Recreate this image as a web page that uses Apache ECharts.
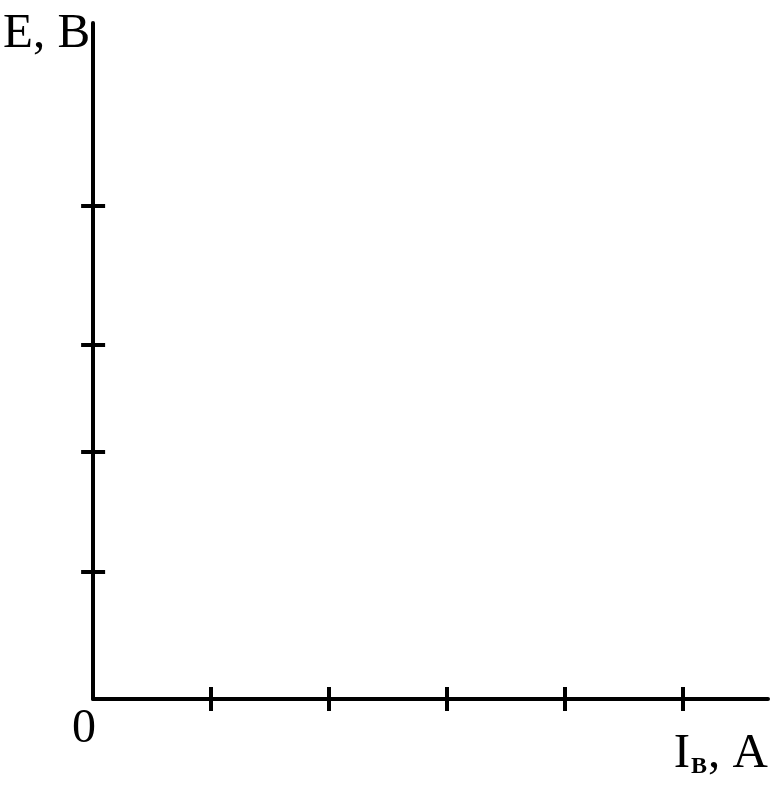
<!DOCTYPE html>
<html>
<head>
<meta charset="utf-8">
<script src="https://cdn.jsdelivr.net/npm/echarts@6/dist/echarts.min.js"></script>
<style>
html,body{margin:0;padding:0;background:#fff;}
#chart{width:771px;height:794px;}
</style>
</head>
<body>
<div id="chart"></div>
<script>
// Axis ranges and tick positions (no data series shown)
const xMax = 5.72;
const yMax = 5.72;
const xTicks = [1, 2, 3, 4, 5];
const yTicks = [1.08, 2.09, 3.0, 4.17];
const xOriginLabel = ['0'];
const yName = 'E, B';
const seriesData = [];

const FONT = 'Liberation Serif';
const lineStyle = { color: '#000', width: 4 };

function xAxisDef(inside, main) {
  return {
    type: 'value', position: 'bottom', min: 0, max: xMax,
    axisLine: { show: main, onZero: false, lineStyle: lineStyle },
    axisTick: { show: true, inside: inside, length: 12, lineStyle: lineStyle, customValues: xTicks },
    splitLine: { show: false },
    axisLabel: main ? {
      show: true, customValues: [0], formatter: () => xOriginLabel[0],
      fontFamily: FONT, fontSize: 48, lineHeight: 48, color: '#000',
      align: 'right', margin: 6, padding: [0, -3, 0, 0]
    } : { show: false },
    name: main ? '{a|I}{b|B}{a|, A}' : '',
    nameLocation: 'end', nameGap: 0,
    nameTextStyle: {
      align: 'right', verticalAlign: 'middle', padding: [110, 0, 0, 0],
      rich: {
        a: { fontFamily: FONT, fontSize: 49, color: '#000', verticalAlign: 'bottom', lineHeight: 49 },
        b: { fontFamily: FONT, fontSize: 24, fontWeight: 'bold', color: '#000', verticalAlign: 'bottom', lineHeight: 49, padding: [0, 1, 0, 1] }
      }
    }
  };
}
function yAxisDef(inside, main) {
  return {
    type: 'value', position: 'left', min: 0, max: yMax,
    axisLine: { show: main, onZero: false, lineStyle: lineStyle },
    axisTick: { show: true, inside: inside, length: 12, lineStyle: lineStyle, customValues: yTicks },
    splitLine: { show: false },
    axisLabel: { show: false },
    name: main ? yName : '',
    nameLocation: 'end', nameGap: -11,
    nameTextStyle: {
      fontFamily: FONT, fontSize: 49, color: '#000',
      align: 'right', verticalAlign: 'middle', padding: [0, 3, 0, 0]
    }
  };
}

const chart = echarts.init(document.getElementById('chart'));
chart.setOption({
  animation: false,
  backgroundColor: '#fff',
  grid: { left: 92, right: 3, top: 23, bottom: 95, containLabel: false },
  xAxis: [xAxisDef(false, true), xAxisDef(true, false)],
  yAxis: [yAxisDef(false, true), yAxisDef(true, false)],
  series: [{ type: 'line', data: seriesData, xAxisIndex: 0, yAxisIndex: 0, symbol: 'none' }]
});
</script>
</body>
</html>
